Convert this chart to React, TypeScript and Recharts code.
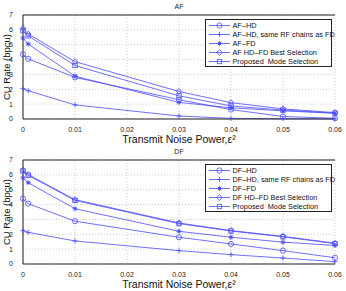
import React from 'react';
import { LineChart, Line, XAxis, YAxis, CartesianGrid, Label } from 'recharts';

const xValues = [0, 0.001, 0.01, 0.03, 0.04, 0.05, 0.06];
const xTicks = [0, 0.01, 0.02, 0.03, 0.04, 0.05, 0.06];
const yTicks = [0, 1, 2, 3, 4, 5, 6, 7];

const afHD = [4.35, 4.05, 2.8, 1.3, 0.63, 0.17, 0.05];
const afHDSame = [2.05, 1.9, 0.95, 0.2, 0.04, 0.02, 0.01];
const afFD = [5.45, 5.05, 2.88, 1.12, 0.75, 0.55, 0.38];
const afBest = [6.1, 5.72, 3.86, 1.85, 1.1, 0.68, 0.43];
const afProposed = [5.95, 5.6, 3.6, 1.56, 0.88, 0.6, 0.4];

const dfHD = [4.4, 4.06, 2.88, 1.8, 1.35, 0.9, 0.42];
const dfHDSame = [2.25, 2.13, 1.55, 0.9, 0.63, 0.4, 0.16];
const dfFD = [5.8, 5.47, 3.72, 2.2, 1.8, 1.47, 1.25];
const dfBest = [6.32, 6.02, 4.33, 2.76, 2.25, 1.86, 1.4];
const dfProposed = [6.26, 5.97, 4.28, 2.72, 2.22, 1.83, 1.37];

const afLabels = ['AF\u2013HD', 'AF\u2013HD, same RF chains as FD', 'AF\u2013FD', 'AF HD\u2013FD Best Selection', 'Proposed  Mode Selection'];
const dfLabels = ['DF\u2013HD', 'DF\u2013HD, same RF chains as FD', 'DF\u2013FD', 'DF HD\u2013FD Best Selection', 'Proposed  Mode Selection'];

const COLOR = '#4a4aff';
const FONT = '"Liberation Sans", Arial, sans-serif';

type Shape = 'circle' | 'plus' | 'star' | 'diamond' | 'square';

function MarkerShape({ x, y, shape }: { x: number; y: number; shape: Shape }) {
  const s = 2.6;
  switch (shape) {
    case 'circle':
      return <circle cx={x} cy={y} r={s} fill="none" stroke={COLOR} strokeWidth={0.8} />;
    case 'plus':
      return (
        <path d={`M${x - s},${y}H${x + s}M${x},${y - s}V${y + s}`} stroke={COLOR} strokeWidth={0.8} fill="none" />
      );
    case 'star':
      return (
        <g>
          <path
            d={`M${x - s},${y}H${x + s}M${x},${y - s}V${y + s}M${x - 1.8},${y - 1.8}L${x + 1.8},${y + 1.8}M${x - 1.8},${y + 1.8}L${x + 1.8},${y - 1.8}`}
            stroke={COLOR}
            strokeWidth={0.8}
          />
          <circle cx={x} cy={y} r={1.2} fill={COLOR} />
        </g>
      );
    case 'diamond':
      return (
        <path d={`M${x},${y - 3}L${x + 2.6},${y}L${x},${y + 3}L${x - 2.6},${y}Z`} fill="none" stroke={COLOR} strokeWidth={0.8} />
      );
    case 'square':
      return <rect x={x - 2.2} y={y - 2.2} width={4.4} height={4.4} fill="none" stroke={COLOR} strokeWidth={0.8} />;
  }
  return null;
}

const makeDot = (shape: Shape) => (props: any) => {
  const { cx, cy, index } = props;
  if (cx == null || cy == null) return <g key={`d-${index}`} />;
  return (
    <g key={`${shape}-${index}`}>
      <MarkerShape x={cx} y={cy} shape={shape} />
    </g>
  );
};

const shapes: Shape[] = ['circle', 'plus', 'star', 'diamond', 'square'];

function LegendBox({ labels }: { labels: string[] }) {
  return (
    <div
      style={{
        position: 'absolute',
        top: 19,
        left: 205,
        width: 127,
        boxSizing: 'border-box',
        border: '0.8px solid #222',
        background: '#fff',
        padding: '0.5px 1px 0.5px 1px',
        fontFamily: FONT,
        fontSize: 7.3,
        color: '#111',
        lineHeight: '9px',
      }}
    >
      {labels.map((l, i) => (
        <div key={l} style={{ display: 'flex', alignItems: 'center', height: 9 }}>
          <svg width={24} height={9} style={{ flex: 'none' }}>
            <line x1={2} y1={4.5} x2={23} y2={4.5} stroke={COLOR} strokeWidth={0.8} />
            <MarkerShape x={12.5} y={4.5} shape={shapes[i]} />
          </svg>
          <span style={{ marginLeft: 1.5, whiteSpace: 'pre' }}>{l}</span>
        </div>
      ))}
    </div>
  );
}

const YLabel = (props: any) => {
  const vb = props.viewBox || {};
  const cy = (vb.y ?? 15) + (vb.height ?? 104) / 2;
  const cx = 6;
  return (
    <text
      x={cx}
      y={cy}
      transform={`rotate(-90 ${cx} ${cy})`}
      textAnchor="middle"
      dominantBaseline="central"
      fontSize={9.5}
      fill="#111"
      fontFamily={FONT}
    >
      CU Rate (bpcu)
    </text>
  );
};

function Panel({ title, series, labels }: { title: string; series: number[][]; labels: string[] }) {
  const data = xValues.map((x, i) => ({
    x,
    s0: series[0][i],
    s1: series[1][i],
    s2: series[2][i],
    s3: series[3][i],
    s4: series[4][i],
  }));
  const tickStyle = { fontSize: 7, fill: '#222', fontFamily: FONT };
  return (
    <div style={{ position: 'relative', width: 346, height: 145 }}>
      <LineChart width={346} height={145} data={data} margin={{ top: 0, right: 11, bottom: 0, left: 13 }}>
        <CartesianGrid stroke="#aaa" strokeDasharray="1 2" strokeWidth={0.6} verticalValues={xTicks} horizontalValues={yTicks} />
        <XAxis
          xAxisId="top"
          orientation="top"
          dataKey="x"
          type="number"
          domain={[0, 0.06]}
          ticks={xTicks}
          tick={false}
          tickLine={false}
          height={15}
          stroke="#222"
          label={{ value: title, position: 'insideTop', offset: 4, fontSize: 7, fill: '#222', fontFamily: FONT }}
        />
        <XAxis
          dataKey="x"
          type="number"
          domain={[0, 0.06]}
          ticks={xTicks}
          tickFormatter={(v: number) => (v === 0 ? '0' : v.toFixed(2))}
          tick={tickStyle}
          tickLine={false}
          tickMargin={2}
          height={26}
          stroke="#222"
          interval={0}
          label={{ value: 'Transmit Noise Power,ε²', position: 'insideBottom', offset: 2, fontSize: 10.5, fill: '#111', fontFamily: FONT }}
        />
        <YAxis
          type="number"
          domain={[0, 7]}
          ticks={yTicks}
          tick={tickStyle}
          tickLine={false}
          tickMargin={4}
          width={10}
          stroke="#222"
          interval={0}
        >
          <Label content={YLabel} />
        </YAxis>
        <YAxis yAxisId="right" orientation="right" domain={[0, 7]} tick={false} tickLine={false} width={0} stroke="#222" />
        {shapes.map((sh, i) => (
          <Line
            key={sh}
            dataKey={`s${i}`}
            stroke={COLOR}
            strokeWidth={0.8}
            dot={makeDot(sh)}
            activeDot={false}
            isAnimationActive={false}
            type="linear"
          />
        ))}
      </LineChart>
      <LegendBox labels={labels} />
    </div>
  );
}

export default function App() {
  return (
    <div style={{ position: 'absolute', left: 0, top: 0, width: 346, height: 291, background: '#fff' }}>
      <Panel title="AF" series={[afHD, afHDSame, afFD, afBest, afProposed]} labels={afLabels} />
      <Panel title="DF" series={[dfHD, dfHDSame, dfFD, dfBest, dfProposed]} labels={dfLabels} />
    </div>
  );
}
